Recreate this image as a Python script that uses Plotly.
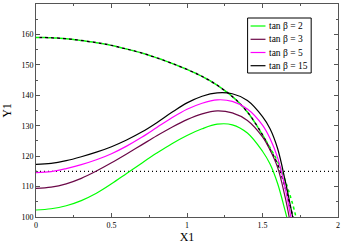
import plotly.graph_objects as go

# ---- data ----
x_vals = [0, 0.1, 0.2, 0.3, 0.4, 0.5, 0.6, 0.7, 0.8, 0.9, 1.0, 1.1, 1.2, 1.3,
          1.4, 1.5, 1.55, 1.6, 1.65, 1.7, 1.75]

tb2 = [102.3, 102.7, 103.7, 105.4, 107.8, 110.9, 114.3, 117.7, 121.0, 124.1, 126.8,
       129.0, 130.5, 130.3, 127.6, 121.6, 117.4, 111.0, 102.0, 92.0, 82.0]
tb3 = [109.4, 109.8, 110.9, 112.7, 115.1, 117.8, 120.7, 123.7, 126.7, 129.5, 132.0,
       133.9, 134.9, 134.2, 131.7, 126.3, 122.0, 116.3, 106.5, 94.0, 82.0]
tb5 = [114.6, 114.9, 115.9, 117.2, 118.8, 120.8, 123.3, 126.2, 129.4, 132.6, 135.4,
       137.4, 138.5, 138.0, 135.5, 130.2, 125.8, 119.5, 109.5, 97.0, 85.0]
tb15 = [117.3, 117.6, 118.5, 119.8, 121.3, 123.1, 125.3, 127.9, 131.0, 134.4, 137.5,
        139.7, 140.8, 140.5, 138.3, 133.0, 129.0, 122.5, 112.0, 100.0, 88.0]
dash_tb2 = [159.0, 158.9, 158.6, 158.0, 157.3, 156.4, 155.2, 153.9, 152.3, 150.5, 148.5,
            146.2, 143.3, 139.6, 134.5, 127.0, 122.8, 118.2, 112.0, 104.2, 94.0]
dash_tb15 = [159.0, 158.9, 158.6, 158.0, 157.3, 156.4, 155.2, 153.9, 152.3, 150.5, 148.5,
             146.2, 143.3, 139.6, 134.5, 127.0, 122.3, 117.3, 109.7, 100.3, 89.0]
ref_level = 115

labels = ["tan \u03b2 = 2", "tan \u03b2 = 3", "tan \u03b2 = 5", "tan \u03b2 = 15"]
colors = ["#00ff00", "#6b0848", "#ff00ff", "#000000"]

x_ticks = [0, 0.5, 1, 1.5, 2]
x_ticktext = ["0", "0.5", "1", "1.5", "2"]
y_ticks = [100, 110, 120, 130, 140, 150, 160, 170]

FONT = "Liberation Serif"

fig = go.Figure()

# horizontal dotted reference line
fig.add_trace(go.Scatter(x=[0, 2], y=[ref_level, ref_level], mode="lines",
                         line=dict(color="black", width=1.2, dash="1px,3px"),
                         showlegend=False, hoverinfo="skip"))

# dashed curves (alternating phase so both colours show)
fig.add_trace(go.Scatter(x=x_vals, y=dash_tb2, mode="lines", line_shape="spline",
                         line=dict(color=colors[0], width=1.5, dash="3px,3px"),
                         showlegend=False))
fig.add_trace(go.Scatter(x=x_vals, y=dash_tb15, mode="lines", line_shape="spline",
                         line=dict(color=colors[3], width=1.5, dash="0px,3px,3px,0px"),
                         showlegend=False))

for series, col in zip([tb2, tb3, tb5, tb15], colors):
    fig.add_trace(go.Scatter(x=x_vals, y=series, mode="lines", line_shape="spline",
                             line=dict(color=col, width=1.2), showlegend=False))

# ---- manual legend box ----
def px_to_paper(px, py):
    return (px - 36) / 304, 1 - (py - 4) / 213

shapes = []
x0, y0 = px_to_paper(249, 18)
x1, y1 = px_to_paper(313, 73)
shapes.append(dict(type="rect", xref="paper", yref="paper", x0=x0, y0=y1, x1=x1, y1=y0,
                   line=dict(color="black", width=1), fillcolor="white", layer="above"))
annotations = []
row_y = [26, 39.3, 52.5, 65.7]
for lab, col, ry in zip(labels, colors, row_y):
    lx0, ly = px_to_paper(252, ry)
    lx1, _ = px_to_paper(267, ry)
    shapes.append(dict(type="line", xref="paper", yref="paper", x0=lx0, x1=lx1, y0=ly, y1=ly,
                       line=dict(color=col, width=1.2), layer="above"))
    tx, _ = px_to_paper(270, ry)
    annotations.append(dict(text=lab, xref="paper", yref="paper", x=tx, y=ly,
                            xanchor="left", yanchor="middle", showarrow=False, borderpad=0,
                            font=dict(family=FONT, size=9.5, color="black")))

axis_common = dict(showgrid=False, zeroline=False, showline=True, linecolor="#555555",
                   linewidth=1, mirror="ticks", ticks="inside", ticklen=4,
                   tickcolor="#555555", tickfont=dict(family=FONT, size=8, color="black"))

fig.update_layout(
    width=343, height=244,
    margin=dict(l=36, r=3, t=4, b=27),
    paper_bgcolor="white", plot_bgcolor="white",
    font=dict(family=FONT),
    showlegend=False,
    shapes=shapes, annotations=annotations,
    xaxis=dict(range=[0, 2], tickvals=x_ticks, ticktext=x_ticktext,
               minor=dict(ticks="inside", dtick=0.25, ticklen=2, tickcolor="#555555"),
               title=dict(text="X1", font=dict(family=FONT, size=12, color="black"), standoff=3),
               **axis_common),
    yaxis=dict(range=[100, 170], tickvals=y_ticks,
               minor=dict(ticks="inside", dtick=5, ticklen=2, tickcolor="#555555"),
               title=dict(text="Y1", font=dict(family=FONT, size=12, color="black"), standoff=8),
               **axis_common),
)

fig.write_html("out.html", config={"displayModeBar": False},
               post_script="document.body.style.margin='0';document.body.style.overflow='hidden';")
